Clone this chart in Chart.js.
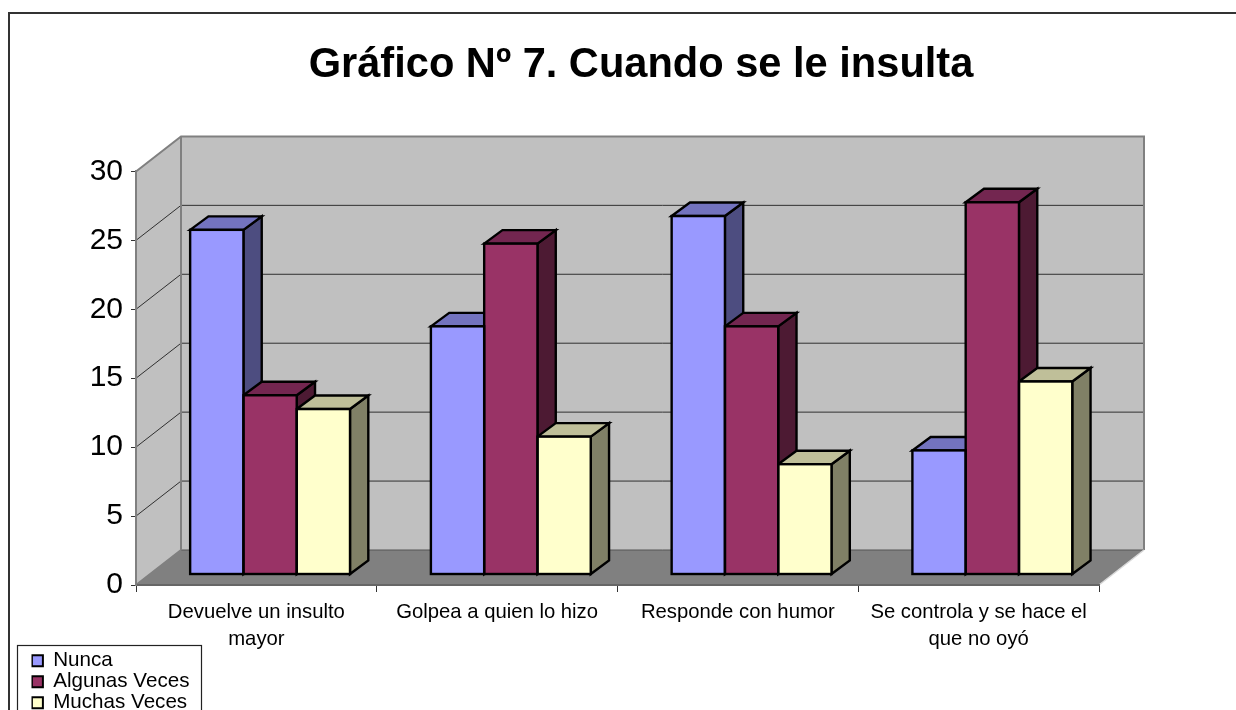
<!DOCTYPE html>
<html><head><meta charset="utf-8">
<style>html,body{margin:0;padding:0;background:#fff;overflow:hidden}#w{position:relative;width:1236px;height:710px}</style>
<script src="https://cdn.jsdelivr.net/npm/chart.js@4"></script>
</head><body><div id="w"><canvas id="c" width="1236" height="710"></canvas></div>
<script>
const categories = [['Devuelve un insulto','mayor'],'Golpea a quien lo hizo','Responde con humor',['Se controla y se hace el','que no oyó']];
const nunca = [25,18,26,9];
const algunasVeces = [13,24,18,27];
const muchasVeces = [12,10,8,14];
const titleText = 'Gráfico Nº 7. Cuando se le insulta';

const FONT = '"Liberation Sans", Arial, sans-serif';
const WALL = {dx:45, dy:-35};      // depth of the 3D box
const BAR = {dx:13.7, dy:-10.5, ddx:18.3, ddy:-13.5};
const EDGE = 2.4;

const faces = [
  {top:'#7373BF', side:'#4D4D80'},
  {top:'#732650', side:'#4D1A33'},
  {top:'#BFBF99', side:'#808066'}
];

function poly(ctx, pts, fill, stroke, lw){
  ctx.beginPath();
  pts.forEach((p,i)=> i?ctx.lineTo(p[0],p[1]):ctx.moveTo(p[0],p[1]));
  ctx.closePath();
  if(fill){ctx.fillStyle=fill;ctx.fill();}
  if(stroke){ctx.strokeStyle=stroke;ctx.lineWidth=lw;ctx.lineJoin='miter';ctx.stroke();}
}

const box3d = {
  id:'box3d',
  afterLayout(chart){
    const t = chart.titleBlock;
    t.left = 46; t.right = 1236;
    const l = chart.legend;
    l.left = 31.5; l.top = 650; l.right = 200; l.bottom = 720;
  },
  beforeDraw(chart){
    const {ctx, chartArea:a, scales:{y}} = chart;
    ctx.save();
    ctx.fillStyle='#fff';ctx.fillRect(0,0,1236,710);
    ctx.strokeStyle='#333';ctx.lineWidth=2;
    ctx.beginPath();ctx.moveTo(9,730);ctx.lineTo(9,13);ctx.lineTo(1240,13);ctx.stroke();
    ctx.lineWidth=1.2;ctx.strokeStyle='#222';
    ctx.strokeRect(17.5,645.5,184,80);
    const {dx,dy}=WALL;
    const L=a.left,R=a.right,T=y.getPixelForValue(30),B=y.getPixelForValue(0);
    poly(ctx,[[L,T],[L+dx,T+dy],[L+dx,B+dy],[L,B]],'#c0c0c0');
    poly(ctx,[[L+dx,T+dy],[R+dx,T+dy],[R+dx,B+dy],[L+dx,B+dy]],'#c0c0c0');
    poly(ctx,[[L,B],[L+dx,B+dy],[R+dx,B+dy],[R,B]],'#808080');
    ctx.lineWidth=1;ctx.strokeStyle='#303030';
    y.ticks.forEach(tk=>{
      if(tk.value===0||tk.value===30)return;
      const p=y.getPixelForValue(tk.value);
      ctx.beginPath();ctx.moveTo(L,p);ctx.lineTo(L+dx,p+dy);ctx.lineTo(R+dx,p+dy);ctx.stroke();
    });
    ctx.beginPath();ctx.strokeStyle='#555';ctx.moveTo(L+dx,B+dy);ctx.lineTo(R+dx,B+dy);ctx.stroke();
    ctx.strokeStyle='#808080';ctx.lineWidth=2;
    ctx.beginPath();
    ctx.moveTo(L,T);ctx.lineTo(L+dx,T+dy);ctx.lineTo(R+dx,T+dy);ctx.lineTo(R+dx,B+dy);
    ctx.moveTo(L+dx,T+dy);ctx.lineTo(L+dx,B+dy);
    ctx.moveTo(L,B);ctx.lineTo(L+dx,B+dy);
    ctx.stroke();
    ctx.strokeStyle='#d8d8d8';ctx.lineWidth=1.5;
    ctx.beginPath();ctx.moveTo(R,B);ctx.lineTo(R+dx,B+dy);ctx.stroke();
    ctx.restore();
  },
  beforeDatasetsDraw(chart){
    const ctx=chart.ctx;
    ctx.save();
    ctx.translate(BAR.dx,BAR.dy);
    const n=chart.data.labels.length;
    const {ddx,ddy}=BAR;
    for(let i=0;i<n;i++){
      chart.data.datasets.forEach((ds,d)=>{
        const b=chart.getDatasetMeta(d).data[i];
        const l=b.x-b.width/2, r=b.x+b.width/2, t=b.y, bt=b.base;
        poly(ctx,[[r,t],[r+ddx,t+ddy],[r+ddx,bt+ddy],[r,bt]],faces[d].side,'#000',EDGE);
        poly(ctx,[[l,t],[l+ddx,t+ddy],[r+ddx,t+ddy],[r,t]],faces[d].top,'#000',EDGE);
      });
    }
  },
  afterDatasetsDraw(chart){
    const ctx=chart.ctx;
    chart.data.datasets.forEach((ds,d)=>{
      chart.getDatasetMeta(d).data.forEach(b=>{
        ctx.strokeStyle='#000';ctx.lineWidth=EDGE;ctx.lineJoin='miter';
        ctx.strokeRect(b.x-b.width/2,b.y,b.width,b.base-b.y);
      });
    });
    ctx.restore();
  }
};

new Chart(document.getElementById('c'),{
  type:'bar',
  data:{labels:categories,datasets:[
    {label:'Nunca',data:nunca,backgroundColor:'#9999FF',borderColor:'#000',borderWidth:0,clip:false},
    {label:'Algunas Veces',data:algunasVeces,backgroundColor:'#993366',borderColor:'#000',borderWidth:0,clip:false},
    {label:'Muchas Veces',data:muchasVeces,backgroundColor:'#FFFFCC',borderColor:'#000',borderWidth:0,clip:false}
  ]},
  options:{
    responsive:false,animation:false,
    layout:{padding:{left:0,right:137,top:0,bottom:0}},
    datasets:{bar:{categoryPercentage:0.664,barPercentage:1}},
    plugins:{
      tooltip:{enabled:false},
      title:{display:true,text:titleText,color:'#000',font:{family:FONT,size:41.6,weight:'bold',lineHeight:1.2},padding:{top:41,bottom:80.5}},
      legend:{display:true,position:'chartArea',align:'start',onClick:null,
        labels:{color:'#000',font:{family:FONT,size:20.6},boxWidth:11,boxHeight:11,padding:0.4,
          generateLabels(chart){return Chart.defaults.plugins.legend.labels.generateLabels(chart).map(l=>({...l,lineWidth:2,strokeStyle:'#000'}));}}}
    },
    scales:{
      x:{
        afterFit(s){s.height=125;},
        grid:{display:true,drawOnChartArea:false,drawTicks:true,tickLength:7,color:'#333',offset:true},
        border:{display:true,color:'#666',width:2},
        ticks:{color:'#000',font:{family:FONT,size:20.3,lineHeight:1.32},padding:7.5,maxRotation:0,minRotation:0,autoSkip:false}
      },
      y:{
        min:0,max:30,
        afterFit(s){s.width=136;},
        grid:{display:true,drawOnChartArea:false,drawTicks:true,tickLength:5,color:'#333'},
        border:{display:true,color:'#808080',width:2},
        ticks:{stepSize:5,color:'#000',font:{family:FONT,size:30},padding:8}
      }
    }
  },
  plugins:[box3d]
});
</script></body></html>
